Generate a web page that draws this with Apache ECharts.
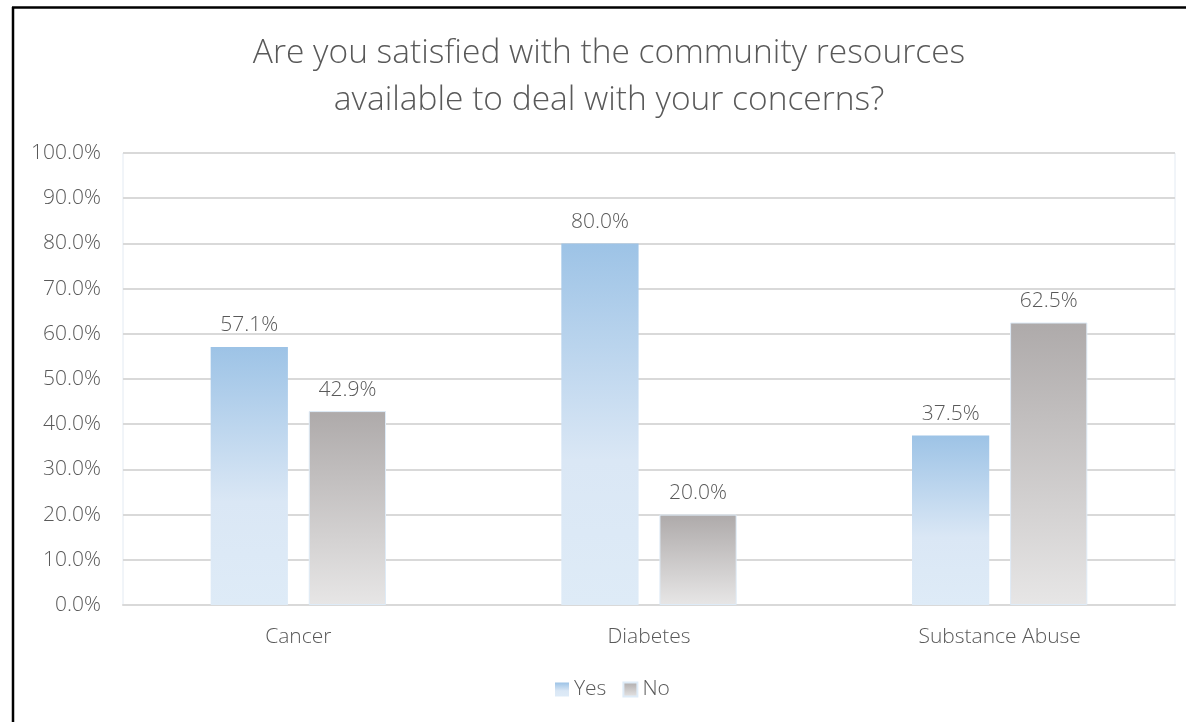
<!DOCTYPE html>
<html>
<head>
<meta charset="utf-8">
<script src="https://cdn.jsdelivr.net/npm/echarts@6/dist/echarts.min.js"></script>
<style>
  html, body { margin: 0; padding: 0; background: #fff; }
  #chart { width: 1186px; height: 722px; }
</style>
</head>
<body>
<div id="chart"></div>
<script>
const categories = ['Cancer', 'Diabetes', 'Substance Abuse']
const yesValues = [57.1, 80.0, 37.5]
const noValues = [42.9, 20.0, 62.5]
const seriesNames = ['Yes', 'No']

const textColor = '#595959'
const fontFamily = '"Open Sans", "Noto Sans", sans-serif'

const yesColor = new echarts.graphic.LinearGradient(0, 0, 0, 1, [
    { offset: 0, color: '#9DC3E6' },
    { offset: 0.6, color: '#DAE7F5' },
    { offset: 1, color: '#DEEBF7' }
])
const noColor = new echarts.graphic.LinearGradient(0, 0, 0, 1, [
    { offset: 0, color: '#AEAAAA' },
    { offset: 1, color: '#E7E6E6' }
])

const chart = echarts.init(document.getElementById('chart'), null, { renderer: 'canvas' })

const pctLabel = {
    show: true,
    position: 'top',
    distance: 11,
    color: textColor,
    fontSize: 21,
    fontFamily: fontFamily,
    fontWeight: 300,
    formatter: (p) => p.value.toFixed(1) + '%'
}

const option = {
    backgroundColor: '#fff',
    animation: false,
    title: {
        text: 'Are you satisfied with the community resources\navailable to deal with your concerns?',
        left: 604,
        textAlign: 'center',
        top: 25,
        textStyle: {
            color: textColor,
            fontSize: 33.5,
            fontWeight: 300,
            fontFamily: fontFamily,
            lineHeight: 47
        }
    },
    graphic: [
        // chart frame (top and left edges visible)
        { type: 'line', shape: { x1: 12, y1: 7.5, x2: 1186, y2: 7.5 }, style: { stroke: '#000', lineWidth: 2.5 } },
        { type: 'line', shape: { x1: 13, y1: 7, x2: 13, y2: 722 }, style: { stroke: '#000', lineWidth: 2.5 } }
    ],
    legend: {
        data: seriesNames,
        bottom: 17,
        left: 550,
        itemWidth: 14,
        itemHeight: 14,
        itemGap: 16,
        icon: 'rect',
        textStyle: { color: textColor, fontSize: 21, fontFamily: fontFamily, fontWeight: 300 }
    },
    grid: {
        left: 123,
        right: 11,
        top: 153,
        bottom: 117,
        show: true,
        borderColor: '#E3EAF2',
        borderWidth: 1
    },
    xAxis: {
        type: 'category',
        data: categories,
        axisTick: { show: false },
        axisLine: { lineStyle: { color: '#D9D9D9', width: 2 } },
        axisLabel: { color: textColor, fontSize: 21, fontFamily: fontFamily, fontWeight: 300, margin: 22 }
    },
    yAxis: {
        type: 'value',
        min: 0,
        max: 100,
        interval: 10,
        axisLine: { show: false },
        axisTick: { show: false },
        axisLabel: {
            color: textColor,
            fontSize: 21,
            fontFamily: fontFamily,
            fontWeight: 300,
            margin: 22,
            formatter: (v) => v.toFixed(1) + '%'
        },
        splitLine: { lineStyle: { color: '#D9D9D9', width: 2 } }
    },
    series: [
        {
            name: seriesNames[0],
            type: 'bar',
            data: yesValues,
            barGap: '27%',
            barCategoryGap: '50%',
            itemStyle: { color: yesColor },
            label: pctLabel
        },
        {
            name: seriesNames[1],
            type: 'bar',
            data: noValues,
            itemStyle: { color: noColor, borderColor: '#DEEBF7', borderWidth: 1 },
            label: pctLabel
        }
    ]
}

chart.setOption(option)
</script>
</body>
</html>
